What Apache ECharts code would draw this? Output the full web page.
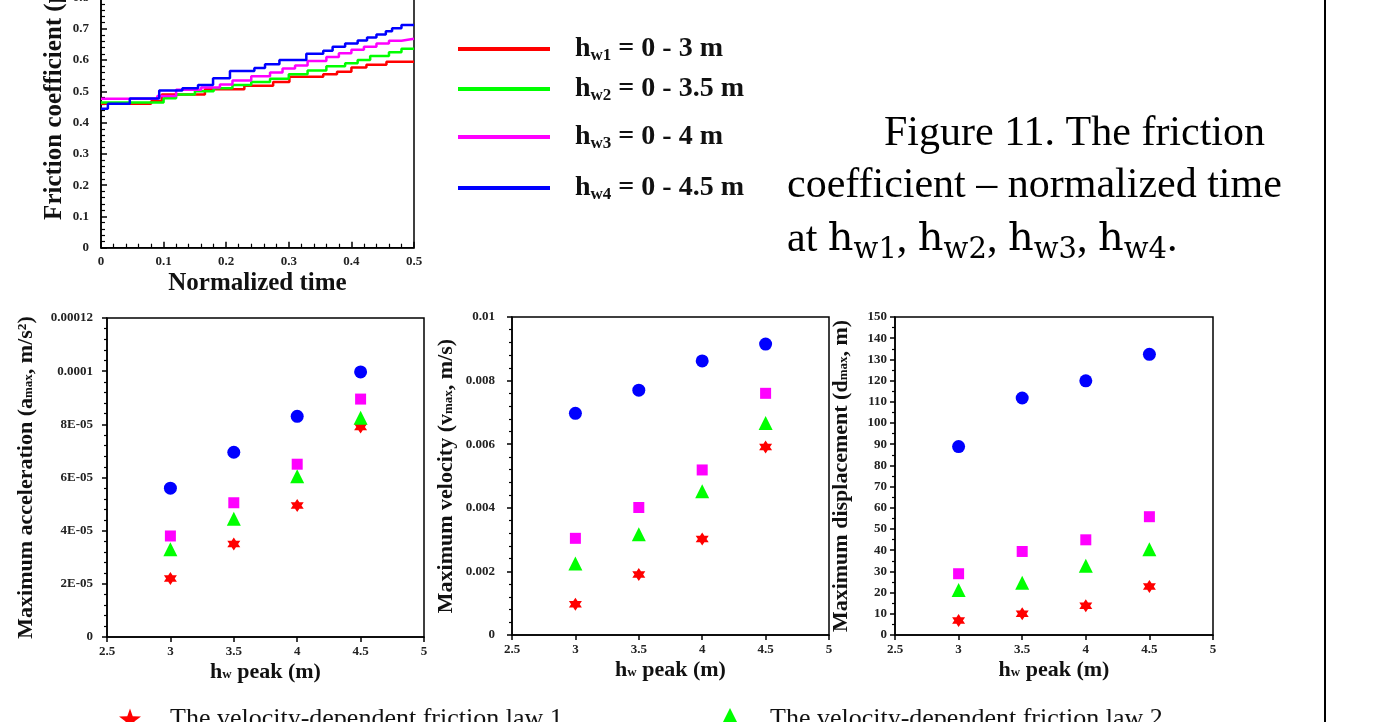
<!DOCTYPE html>
<html>
<head>
<meta charset="utf-8">
<title>Figure 11</title>
<script src="https://cdn.jsdelivr.net/npm/echarts@6/dist/echarts.min.js"></script>
<style>
  html, body { margin: 0; padding: 0; background: #fff; }
  #main { width: 1400px; height: 722px; }
</style>
</head>
<body>
<div id="main"></div>
<script type="text/javascript">
// friction coefficient vs normalized time (step curves)
var hw1Time = [0, 0.08, 0.097, 0.166, 0.229, 0.275, 0.301, 0.355, 0.377, 0.40, 0.424, 0.456, 0.5];
var hw1Mu   = [0.46, 0.468, 0.49, 0.507, 0.518, 0.53, 0.547, 0.555, 0.563, 0.576, 0.585, 0.595, 0.595];
var hw2Time = [0, 0.1, 0.12, 0.15, 0.18, 0.21, 0.24, 0.27, 0.30, 0.33, 0.36, 0.39, 0.41, 0.43, 0.46, 0.48, 0.5];
var hw2Mu   = [0.464, 0.478, 0.49, 0.50, 0.51, 0.52, 0.53, 0.54, 0.555, 0.567, 0.58, 0.59, 0.60, 0.613, 0.625, 0.636, 0.636];
var hw3Time = [0, 0.09, 0.12, 0.16, 0.19, 0.21, 0.24, 0.27, 0.29, 0.31, 0.33, 0.36, 0.38, 0.40, 0.42, 0.44, 0.46, 0.48, 0.5];
var hw3Mu   = [0.476, 0.485, 0.505, 0.512, 0.522, 0.535, 0.548, 0.56, 0.573, 0.583, 0.597, 0.61, 0.622, 0.633, 0.643, 0.653, 0.662, 0.668, 0.668];
var hw4Time = [0, 0.011, 0.046, 0.093, 0.13, 0.155, 0.179, 0.206, 0.245, 0.262, 0.285, 0.328, 0.355, 0.37, 0.39, 0.41, 0.425, 0.44, 0.455, 0.465, 0.48, 0.5];
var hw4Mu   = [0.444, 0.46, 0.477, 0.503, 0.51, 0.52, 0.542, 0.565, 0.575, 0.587, 0.60, 0.62, 0.63, 0.643, 0.653, 0.663, 0.672, 0.682, 0.692, 0.702, 0.712, 0.712];

var hwSub   = ['w1', 'w2', 'w3', 'w4'];
var hwRange = ['0 - 3 m', '0 - 3.5 m', '0 - 4 m', '0 - 4.5 m'];

// peak water level and maximum responses
var hwPeak = [3, 3.5, 4, 4.5];
var accLaw1 = [2.2e-5, 3.5e-5, 4.95e-5, 7.9e-5];
var accLaw2 = [3.3e-5, 4.45e-5, 6.05e-5, 8.25e-5];
var accLaw3 = [3.8e-5, 5.05e-5, 6.5e-5, 8.95e-5];
var accLaw4 = [5.6e-5, 6.95e-5, 8.3e-5, 9.97e-5];
var velLaw1 = [0.00097, 0.0019, 0.00302, 0.00591];
var velLaw2 = [0.00225, 0.00317, 0.00452, 0.00667];
var velLaw3 = [0.00304, 0.00401, 0.00519, 0.0076];
var velLaw4 = [0.00697, 0.0077, 0.00862, 0.00915];
var dispLaw1 = [6.8, 10.0, 13.8, 22.9];
var dispLaw2 = [21.2, 24.7, 32.7, 40.5];
var dispLaw3 = [28.9, 39.4, 44.9, 55.8];
var dispLaw4 = [88.9, 111.8, 119.9, 132.4];
var accTickLabels = ['0', '2E-05', '4E-05', '6E-05', '8E-05', '0.0001', '0.00012'];

var lawNames = ['The velocity-dependent friction law 1', 'The velocity-dependent friction law 2',
                'The velocity-dependent friction law 3', 'The velocity-dependent friction law 4'];

var colors = ['#ff0000', '#00ff00', '#ff00ff', '#0000ff'];
var hexStar = 'path://M0,-10 L2.89,-5 L8.66,-5 L5.77,0 L8.66,5 L2.89,5 L0,10 L-2.89,5 L-8.66,5 L-5.77,0 L-8.66,-5 L-2.89,-5 Z';
var star5 = 'path://M0,-10 L2.35,-3.24 L9.51,-3.09 L3.8,1.24 L5.88,8.09 L0,4 L-5.88,8.09 L-3.8,1.24 L-9.51,-3.09 L-2.35,-3.24 Z';
var lawSymbols = [hexStar, 'triangle', 'rect', 'circle'];
var lawSizes = [13, 14, 11, 13];

var serif = 'Liberation Serif';

function pairs(xs, ys) {
	var out = [];
	for (var i = 0; i < xs.length; i++) out.push([xs[i], ys[i]]);
	return out;
}

var boldLabel = { fontFamily: serif, fontWeight: 'bold', fontSize: 13, color: '#222' };
var blackLine = { lineStyle: { color: '#000', width: 1.5 } };

function subRich(size, shift) {
	return {
		n: { fontFamily: serif, fontWeight: 'bold', fontSize: size, color: '#111' },
		s: { fontFamily: serif, fontWeight: 'bold', fontSize: Math.round(size * 0.6), color: '#111', padding: [shift * 2, 0, 0, 0] }
	};
}

var chart = echarts.init(document.getElementById('main'));

var grids = [
	{ left: 101, top: -65, width: 313, height: 312.7 },
	{ left: 107, top: 318, width: 317, height: 319 },
	{ left: 512, top: 317, width: 317, height: 318 },
	{ left: 895, top: 317, width: 318, height: 318 }
];
grids.forEach(function (g) {
	g.show = true; g.borderColor = '#000'; g.borderWidth = 1.5;
	g.containLabel = false; g.outerBoundsMode = 'none';
});

var xAxes = [{
	gridIndex: 0, type: 'value', min: 0, max: 0.5, interval: 0.1,
	name: 'Normalized time', nameLocation: 'middle', nameGap: 23,
	nameTextStyle: { fontFamily: serif, fontWeight: 'bold', fontSize: 25, color: '#111' },
	axisLine: blackLine,
	axisTick: { inside: true, length: 6, lineStyle: { color: '#000', width: 1.5 } },
	minorTick: { show: true, splitNumber: 5, length: 4, lineStyle: { color: '#000', width: 1.2 } },
	axisLabel: Object.assign({ margin: 7 }, boldLabel),
	splitLine: { show: false }
}];
var yAxes = [{
	gridIndex: 0, type: 'value', min: 0, max: 1, interval: 0.1,
	name: 'Friction coefficient (\u03bc)', nameLocation: 'middle', nameGap: 34,
	nameTextStyle: { fontFamily: serif, fontWeight: 'bold', fontSize: 25, color: '#111', padding: [0, 18, 0, 0] },
	axisLine: blackLine,
	axisTick: { inside: true, length: 6, lineStyle: { color: '#000', width: 1.5 } },
	minorTick: { show: true, splitNumber: 5, length: 4, lineStyle: { color: '#000', width: 1.2 } },
	axisLabel: Object.assign({ margin: 12 }, boldLabel),
	splitLine: { show: false }
}];

var bottomY = [
	{ min: 0, max: 0.00012, interval: 0.00002, minor: 5, gap: 70, margin: 14,
	  name: '{n|Maximum acceleration (a}{s|max}{n|, m/s\u00b2)}',
	  fmt: function (v, i) { return accTickLabels[i]; } },
	{ min: 0, max: 0.01, interval: 0.002, minor: 5, gap: 55, margin: 17,
	  name: '{n|Maximum velocity (v}{s|max}{n|, m/s)}', fmt: null },
	{ min: 0, max: 150, interval: 10, minor: 2, gap: 43, margin: 8,
	  name: '{n|Maximum displacement (d}{s|max}{n|, m)}', fmt: null }
];

bottomY.forEach(function (b, k) {
	xAxes.push({
		gridIndex: k + 1, type: 'value', min: 2.5, max: 5, interval: 0.5,
		name: '{n|h}{s|w}{n| peak (m)}', nameLocation: 'middle', nameGap: 24,
		nameTextStyle: { rich: subRich(22, 3) },
		axisLine: blackLine,
		axisTick: { inside: false, length: 5, lineStyle: { color: '#000', width: 1.5 } },
		axisLabel: Object.assign({ margin: 8 }, boldLabel),
		splitLine: { show: false }
	});
	var lab = Object.assign({ margin: b.margin }, boldLabel);
	if (b.fmt) lab.formatter = b.fmt;
	yAxes.push({
		gridIndex: k + 1, type: 'value', min: b.min, max: b.max, interval: b.interval,
		name: b.name, nameLocation: 'middle', nameGap: b.gap,
		nameTextStyle: { rich: subRich(22, 3) },
		axisLine: blackLine,
		axisTick: { inside: false, length: 5, lineStyle: { color: '#000', width: 1.5 } },
		minorTick: { show: true, splitNumber: b.minor, length: 3, lineStyle: { color: '#000', width: 1.2 } },
		axisLabel: lab,
		splitLine: { show: false }
	});
});

var series = [];
var stepTimes = [hw1Time, hw2Time, hw3Time, hw4Time];
var stepMus = [hw1Mu, hw2Mu, hw3Mu, hw4Mu];
for (var i = 0; i < 4; i++) {
	series.push({
		name: 'hw' + (i + 1), type: 'line', step: 'end', xAxisIndex: 0, yAxisIndex: 0,
		showSymbol: false, symbol: 'none',
		lineStyle: { color: colors[i], width: 2.5 }, itemStyle: { color: colors[i] },
		data: pairs(stepTimes[i], stepMus[i])
	});
}

var bottomData = [
	[accLaw1, accLaw2, accLaw3, accLaw4],
	[velLaw1, velLaw2, velLaw3, velLaw4],
	[dispLaw1, dispLaw2, dispLaw3, dispLaw4]
];
bottomData.forEach(function (set, k) {
	set.forEach(function (vals, j) {
		series.push({
			name: lawNames[j], type: 'scatter', xAxisIndex: k + 1, yAxisIndex: k + 1,
			symbol: lawSymbols[j], symbolSize: lawSizes[j],
			itemStyle: { color: colors[j], opacity: 1 },
			data: pairs(hwPeak, vals)
		});
	});
});

// legend for the step curves
var hwLegendTops = [35, 75, 123, 174];
var legends = hwSub.map(function (sub, i) {
	return {
		data: ['hw' + (i + 1)], left: 458, top: hwLegendTops[i], padding: 0,
		icon: 'rect', itemWidth: 92, itemHeight: 4, selectedMode: false,
		formatter: function () { return '{p|}{n|h}{s|' + sub + '}{n| = ' + hwRange[i] + '}'; },
		textStyle: { rich: Object.assign({ p: { width: 20 } }, subRich(28, 7)) }
	};
});
// legend for the friction laws (bottom, partly cut off)
[0, 1].forEach(function (j) {
	legends.push({
		data: [{ name: lawNames[j], icon: j === 0 ? star5 : 'triangle' }],
		left: j === 0 ? 119 : 719, top: 706, padding: 0, selectedMode: false,
		itemWidth: 22, itemHeight: 22,
		formatter: function (n) { return '{p|}{t|' + n + '}'; },
		textStyle: { rich: { p: { width: 24 }, t: { fontFamily: serif, fontSize: 26, color: '#111' } } }
	});
});

var capRich = {
	c: { fontFamily: serif, fontSize: 42, color: '#000', lineHeight: 54 },
	h: { fontFamily: 'DejaVu Serif', fontSize: 40, color: '#000', lineHeight: 54 },
	s: { fontFamily: 'DejaVu Serif', fontSize: 29, color: '#000', padding: [20, 0, 0, 0] }
};

chart.setOption({
	backgroundColor: '#fff',
	animation: false,
	grid: grids,
	xAxis: xAxes,
	yAxis: yAxes,
	legend: legends,
	series: series,
	graphic: [
		{ type: 'text', left: 884, top: 113, style: { text: '{c|Figure 11. The friction}', rich: capRich } },
		{ type: 'text', left: 787, top: 165, style: { text: '{c|coefficient \u2013 normalized time}', rich: capRich } },
		{ type: 'text', left: 787, top: 219, style: {
			text: '{c|at }{h|h}{s|w1}{c|, }{h|h}{s|w2}{c|, }{h|h}{s|w3}{c|, }{h|h}{s|w4}{c|.}', rich: capRich } },
		{ type: 'line', shape: { x1: 1325, y1: 0, x2: 1325, y2: 722 }, style: { stroke: '#000', lineWidth: 2 } }
	]
});
</script>
</body>
</html>
